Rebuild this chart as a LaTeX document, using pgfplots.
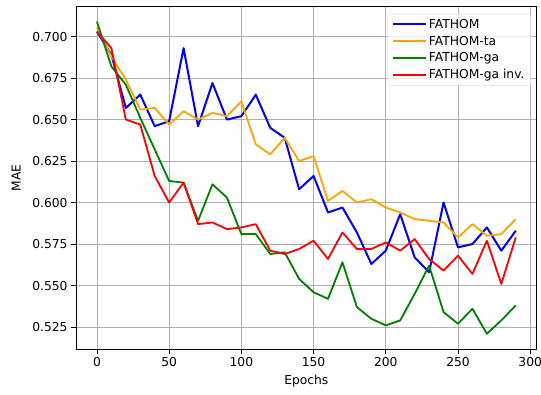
\documentclass[border=0pt]{standalone}
\usepackage{fontspec}
\setmainfont{DejaVu Sans}
\usepackage{pgfplots}
\pgfplotsset{compat=1.18}
\definecolor{mplblue}{rgb}{0.0,0.0,1.0}
\definecolor{mplorange}{RGB}{255,165,0}
\definecolor{mplgreen}{RGB}{0,128,0}
\definecolor{mplred}{RGB}{255,0,0}
\definecolor{gridgray}{RGB}{176,176,176}
\begin{document}
\begin{tikzpicture}
\path[use as bounding box] (-76pt,-44.7pt) rectangle (465pt,349.3pt);
\begin{axis}[
  scale only axis,
  width=460.7pt, height=343.3pt,
  xmin=-14.5, xmax=304.5,
  ymin=0.5116, ymax=0.7184,
  xtick={0,50,100,150,200,250,300},
  ytick={0.525,0.550,0.575,0.600,0.625,0.650,0.675,0.700},
  yticklabel style={/pgf/number format/.cd, fixed, fixed zerofill, precision=3},
  /pgf/number format/assume math mode=true,
  tick label style={font=\fontsize{12.3}{14}\selectfont, color=black},
  label style={font=\fontsize{12.3}{14}\selectfont},
  tick align=outside,
  major tick length=4.9pt,
  tick style={black, line width=0.8pt},
  xtick pos=bottom, ytick pos=left,
  axis line style={black, line width=0.8pt},
  grid=major,
  grid style={gridgray, line width=0.8pt},
  xlabel={Epochs},
  ylabel={MAE},
  xlabel style={at={(axis description cs:0.5,-0.092)}, anchor=center},
  ylabel style={at={(axis description cs:-0.130,0.5)}, anchor=center, rotate=0},
  legend cell align=left,
  legend style={at={(0.987,0.977)}, anchor=north east,
    font=\fontsize{12.3}{14}\selectfont,
    draw=black!15, rounded corners=2pt, fill=white, fill opacity=0.8, text opacity=1,
    row sep=2.2pt, inner xsep=4pt, inner ysep=3pt},
  legend image code/.code={\path (0pt,0pt) -- (33pt,0pt); \draw[#1] (0pt,0pt) -- (27pt,0pt);},
]
\addplot[draw=mplblue, line width=2pt, line join=round, mark=none] coordinates {
(0,0.703) (10,0.689) (20,0.657) (30,0.665) (40,0.646) (50,0.649) (60,0.693) (70,0.646) (80,0.672) (90,0.650)
(100,0.652) (110,0.665) (120,0.645) (130,0.639) (140,0.608) (150,0.616) (160,0.594) (170,0.597) (180,0.582) (190,0.563)
(200,0.571) (210,0.593) (220,0.567) (230,0.558) (240,0.600) (250,0.573) (260,0.575) (270,0.585) (280,0.571) (290,0.583)
};
\addlegendentry{FATHOM}
\addplot[draw=mplorange, line width=1.8pt, line join=round, mark=none] coordinates {
(0,0.705) (10,0.688) (20,0.674) (30,0.656) (40,0.657) (50,0.647) (60,0.655) (70,0.650) (80,0.654) (90,0.652)
(100,0.661) (110,0.635) (120,0.629) (130,0.639) (140,0.625) (150,0.628) (160,0.601) (170,0.607) (180,0.600) (190,0.602)
(200,0.597) (210,0.594) (220,0.590) (230,0.589) (240,0.588) (250,0.579) (260,0.587) (270,0.580) (280,0.581) (290,0.590)
};
\addlegendentry{FATHOM-ta}
\addplot[draw=mplgreen, line width=1.8pt, line join=round, mark=none] coordinates {
(0,0.709) (10,0.682) (20,0.671) (30,0.651) (40,0.632) (50,0.613) (60,0.612) (70,0.589) (80,0.611) (90,0.603)
(100,0.581) (110,0.581) (120,0.569) (130,0.570) (140,0.554) (150,0.546) (160,0.542) (170,0.564) (180,0.537) (190,0.530)
(200,0.526) (210,0.529) (220,0.545) (230,0.562) (240,0.534) (250,0.527) (260,0.536) (270,0.521) (280,0.529) (290,0.538)
};
\addlegendentry{FATHOM-ga}
\addplot[draw=mplred, line width=1.8pt, line join=round, mark=none] coordinates {
(0,0.703) (10,0.693) (20,0.650) (30,0.647) (40,0.616) (50,0.600) (60,0.612) (70,0.587) (80,0.588) (90,0.584)
(100,0.585) (110,0.587) (120,0.571) (130,0.569) (140,0.572) (150,0.577) (160,0.566) (170,0.582) (180,0.572) (190,0.572)
(200,0.576) (210,0.571) (220,0.578) (230,0.566) (240,0.559) (250,0.568) (260,0.557) (270,0.577) (280,0.551) (290,0.579)
};
\addlegendentry{FATHOM-ga inv.}
\end{axis}
\end{tikzpicture}
\end{document}
